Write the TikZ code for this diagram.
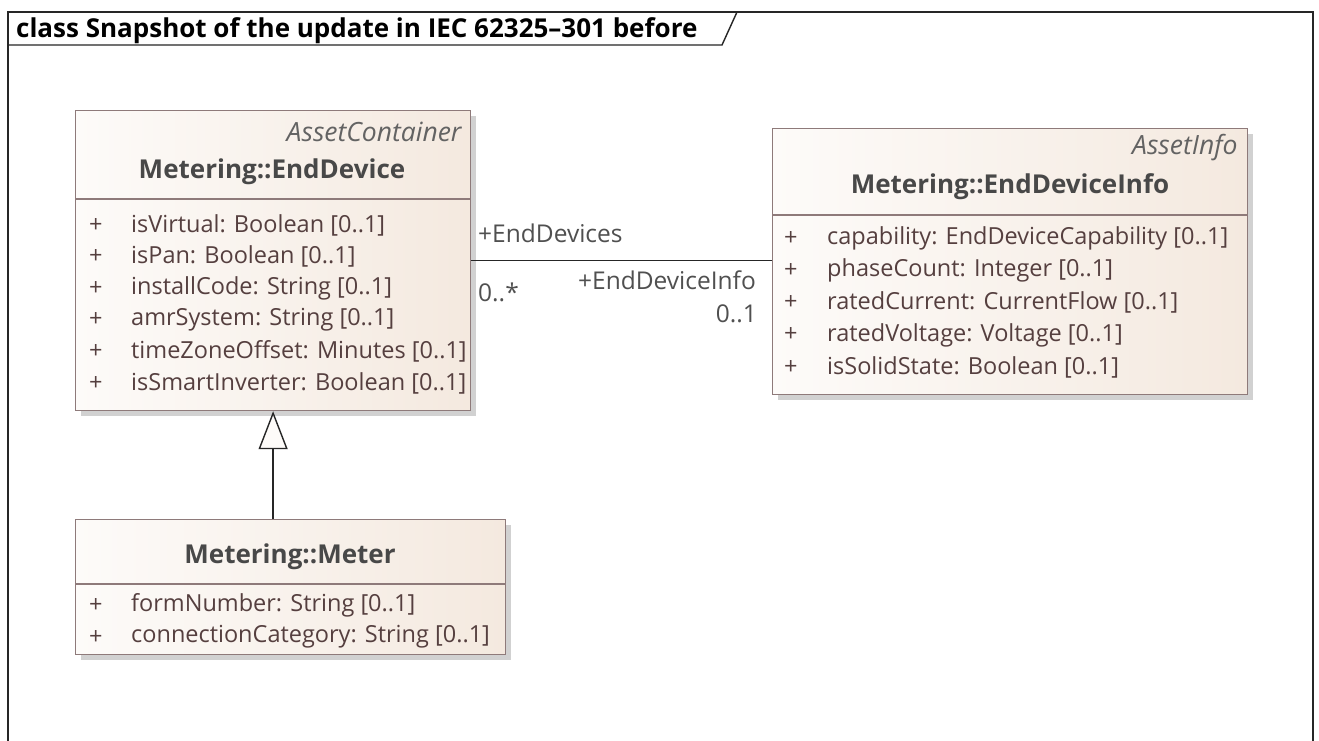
\documentclass[tikz,border=0pt]{standalone}
\usepackage{fontspec}
\setmainfont{Open Sans}
\usetikzlibrary{positioning, arrows.meta, calc, shadows}
\definecolor{boxleft}{HTML}{FDFBF9}
\definecolor{boxright}{HTML}{F4E9DF}
\definecolor{boxline}{HTML}{8E7A7A}
\definecolor{nametext}{HTML}{484848}
\definecolor{attrtext}{HTML}{553F3F}
\definecolor{roletext}{HTML}{505050}

\begin{document}
\begin{tikzpicture}[x=1pt, y=-1pt, font=\fontsize{23.5}{26}\selectfont,
    classbox/.style = {draw=boxline, line width=1.2pt, left color=boxleft, right color=boxright, anchor=north west, inner sep=0pt,
      drop shadow={shadow xshift=5pt, shadow yshift=-5pt, fill=black!18, opacity=1}},
    classname/.style = {font=\fontsize{26}{28}\selectfont\bfseries, text=nametext},
    stereo/.style = {font=\fontsize{26.5}{28}\selectfont\itshape, text=nametext!85, anchor=east},
    attr/.style = {text=attrtext, anchor=west, inner sep=0pt},
    role/.style = {text=roletext, inner sep=0pt, font=\fontsize{24.5}{26}\selectfont},
  ]
    \useasboundingbox (0,0) rectangle (1319,740);
    \fill[white] (0,0) rectangle (1319,740);

    % frame
    \draw[line width=2pt, black!85] (8,742) -- (8,12) -- (1313,12) -- (1313,742);
    \draw[line width=1.4pt, black!85] (8,45) -- (722,45) -- (737,12);
    \node[anchor=west, font=\fontsize{26}{28}\selectfont\bfseries, inner sep=0pt] (frametitle) at (16,31) {class Snapshot of the update in IEC 62325–301 before};

    % classes
    \node[classbox, minimum width=395pt, minimum height=300pt] (enddev) at (75,110) {};
    \node[classbox, minimum width=475pt, minimum height=266pt] (info) at (772,128) {};
    \node[classbox, minimum width=430pt, minimum height=135pt] (meter) at (75,519) {};

    \draw[boxline, line width=1.2pt] (enddev.west |- 0,199) -- (enddev.east |- 0,199);
    \draw[boxline, line width=1.2pt] (info.west |- 0,215) -- (info.east |- 0,215);
    \draw[boxline, line width=1.2pt] (meter.west |- 0,584) -- (meter.east |- 0,584);

    \node[stereo] (enddevstereo) at (465,132) {AssetContainer};
    \node[classname] (enddevname) at (272,172) {Metering::EndDevice};
    \foreach \attrib [count=\i] in {{isVirtual: Boolean [0..1]}, {isPan: Boolean [0..1]}, {installCode: String [0..1]},
        {amrSystem: String [0..1]}, {timeZoneOffset: Minutes [0..1]}, {isSmartInverter: Boolean [0..1]}}{
      \node[attr] (enddevplus\i) at (89,{225+31.6*(\i-1)}) {+};
      \node[attr] (enddevattr\i) at (131,{225+31.6*(\i-1)}) {\attrib};
    }

    \node[stereo] (infostereo) at (1241,148) {AssetInfo};
    \node[classname] (infoname) at (1010,187) {Metering::EndDeviceInfo};
    \foreach \attrib [count=\i] in {{capability: EndDeviceCapability [0..1]}, {phaseCount: Integer [0..1]},
        {ratedCurrent: CurrentFlow [0..1]}, {ratedVoltage: Voltage [0..1]}, {isSolidState: Boolean [0..1]}}{
      \node[attr] (infoplus\i) at (784,{238+32.3*(\i-1)}) {+};
      \node[attr] (infoattr\i) at (827,{238+32.3*(\i-1)}) {\attrib};
    }

    \node[classname] (metername) at (290,557) {Metering::Meter};
    \foreach \attrib [count=\i] in {{formNumber: String [0..1]}, {connectionCategory: String [0..1]}}{
      \node[attr] (meterplus\i) at (89,{605+32*(\i-1)}) {+};
      \node[attr] (meterattr\i) at (131,{605+32*(\i-1)}) {\attrib};
    }

    % association
    \draw[line width=1.4pt, black!85] (enddev.east) -- (enddev.east -| info.west);
    \node[role, anchor=west] (enddevrole) at (478,233) {+EndDevices};
    \node[role, anchor=west] (enddevmult) at (478,292) {0..*};
    \node[role, anchor=east] (inforole) at (756,280) {+EndDeviceInfo};
    \node[role, anchor=east] (infomult) at (757,314) {0..1};

    % generalization
    \draw[line width=1.4pt, black!85, -{Triangle[length=38pt, width=29pt, fill=boxleft]}] (enddev.south |- meter.north) -- (enddev.south);
\end{tikzpicture}
\end{document}
